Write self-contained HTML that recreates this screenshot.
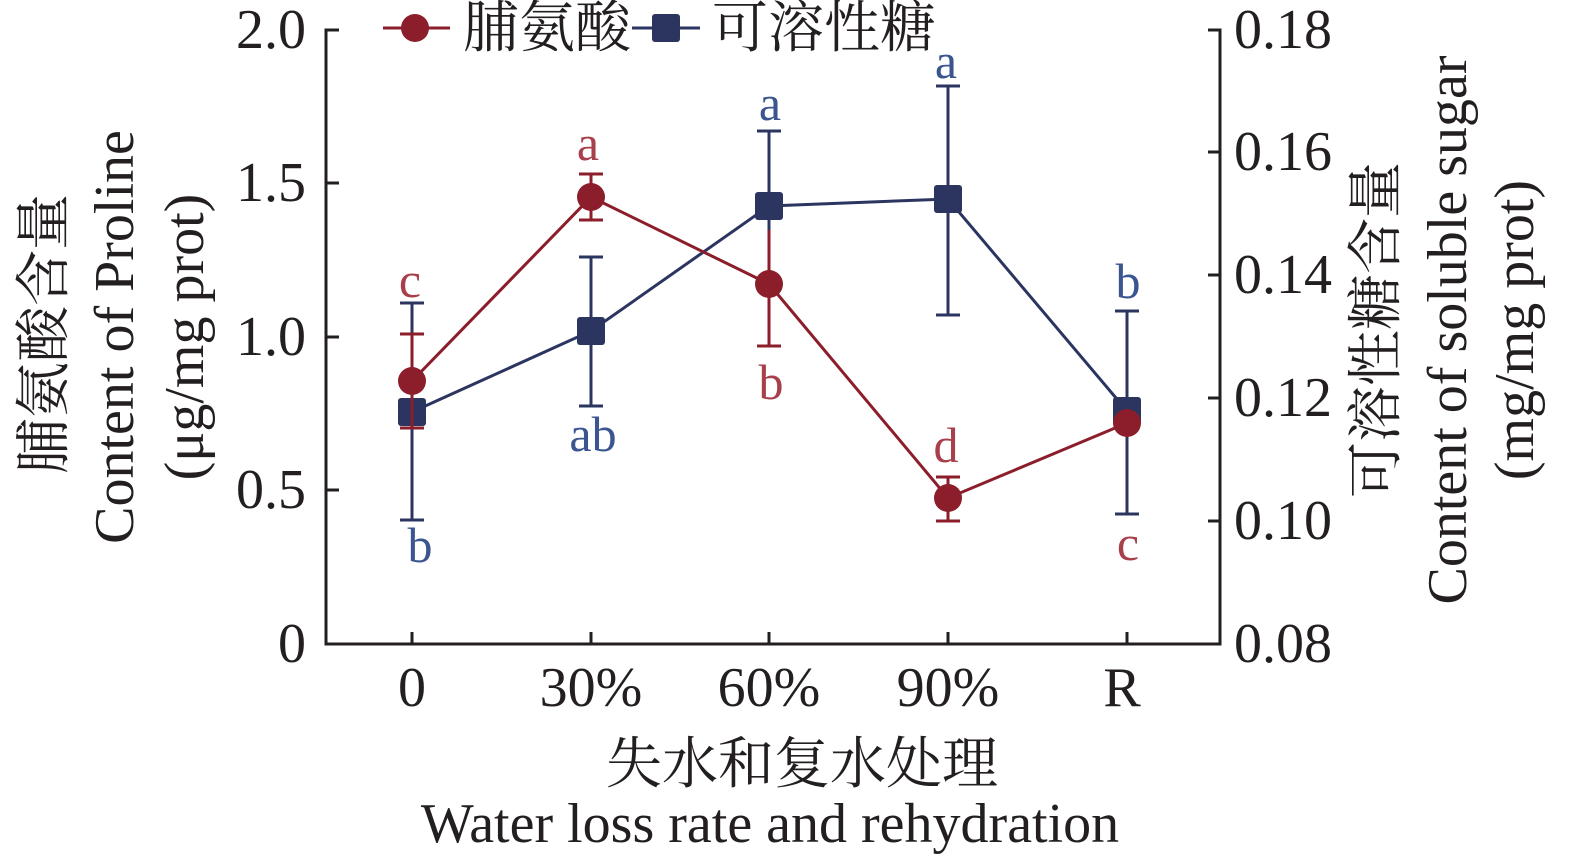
<!DOCTYPE html>
<html><head><meta charset="utf-8"><style>body{margin:0;background:#fff}</style></head><body>
<svg width="1575" height="863" xmlns="http://www.w3.org/2000/svg" font-family="'Liberation Serif','Noto Serif CJK SC',serif">
<g stroke="#231f20" stroke-width="3" fill="none">
<path d="M339,30H326V644H1220V30H1208"/>
<path d="M326,490H339M326,337H339M326,183H339"/>
<path d="M1220,152H1208M1220,275H1208M1220,398H1208M1220,521H1208"/>
<path d="M412,644V632M591,644V632M769,644V632M948,644V632M1127,644V632"/>
</g>
<g font-size="56" fill="#231f20" text-anchor="end">
<text x="306" y="48">2.0</text><text x="306" y="201">1.5</text><text x="306" y="355">1.0</text><text x="306" y="508">0.5</text><text x="306" y="662">0</text>
</g>
<g font-size="56" fill="#231f20">
<text x="1234" y="48">0.18</text><text x="1234" y="170">0.16</text><text x="1234" y="293">0.14</text><text x="1234" y="416">0.12</text><text x="1234" y="539">0.10</text><text x="1234" y="662">0.08</text>
</g>
<g font-size="56" fill="#231f20" text-anchor="middle">
<text x="412" y="706">0</text><text x="591" y="706">30%</text><text x="769" y="706">60%</text><text x="948" y="706">90%</text><text x="1122" y="706">R</text>
<text x="802" y="783">失水和复水处理</text>
<text x="770" y="842">Water loss rate and rehydration</text>
</g>
<g font-size="56" fill="#231f20" text-anchor="middle">
<text transform="translate(63,334) rotate(-90)">脯氨酸含量</text>
<text transform="translate(133,337) rotate(-90)">Content of Proline</text>
<text transform="translate(203,337) rotate(-90)">(μg/mg prot)</text>
<text transform="translate(1395,330) rotate(-90)">可溶性糖含量</text>
<text transform="translate(1466,330) rotate(-90)">Content of soluble sugar</text>
<text transform="translate(1533,330) rotate(-90)">(mg/mg prot)</text>
</g>
<g stroke="#2b3560" stroke-width="3" fill="none">
<path d="M412,303V520M400,303H424M400,520H424"/>
<path d="M591,257V406M579,257H603M579,406H603"/>
<path d="M769,131V281M757,131H781"/>
<path d="M948,86V315M936,86H960M936,315H960"/>
<path d="M1127,311V514M1115,311H1139M1115,514H1139"/>
<polyline points="412,412 591,331 769,206 948,199 1127,411"/>
</g>
<g stroke="#8b1e2a" stroke-width="3" fill="none">
<path d="M412,334V428M400,334H424M400,428H424"/>
<path d="M591,174V220M579,174H603M579,220H603"/>
<path d="M769,346V230M757,346H781"/>
<path d="M948,477V521M936,477H960M936,521H960"/>
<polyline points="412,381 591,197 769,284 948,498 1127,423"/>
</g>
<g fill="#2b3560">
<rect x="398" y="398" width="28" height="28" rx="3"/><rect x="577" y="317" width="28" height="28" rx="3"/><rect x="755" y="192" width="28" height="28" rx="3"/><rect x="934" y="185" width="28" height="28" rx="3"/><rect x="1113" y="397" width="28" height="28" rx="3"/>
</g>
<path d="M412,398V426" stroke="#8b1e2a" stroke-width="3"/>
<g fill="#8b1e2a">
<circle cx="412" cy="381" r="14"/><circle cx="591" cy="197" r="14"/><circle cx="769" cy="284" r="14"/><circle cx="948" cy="498" r="14"/><circle cx="1127" cy="423" r="14"/>
</g>
<g font-size="50" text-anchor="middle" fill="#a8404b">
<text x="410" y="297">c</text><text x="588" y="160">a</text><text x="771" y="399">b</text><text x="946" y="462">d</text><text x="1128" y="560">c</text>
</g>
<g font-size="50" text-anchor="middle" fill="#3b5590">
<text x="420" y="562">b</text><text x="593" y="451">ab</text><text x="770" y="120">a</text><text x="946" y="78">a</text><text x="1128" y="298">b</text>
</g>
<path d="M383,28H450" stroke="#8b1e2a" stroke-width="3"/><circle cx="415" cy="28" r="14" fill="#8b1e2a"/>
<text x="463" y="47" font-size="56" fill="#231f20">脯氨酸</text>
<path d="M632,28H700" stroke="#2b3560" stroke-width="3"/><rect x="652" y="14" width="28" height="28" rx="3" fill="#2b3560"/>
<text x="712" y="47" font-size="56" fill="#231f20">可溶性糖</text>
</svg>
</body></html>
